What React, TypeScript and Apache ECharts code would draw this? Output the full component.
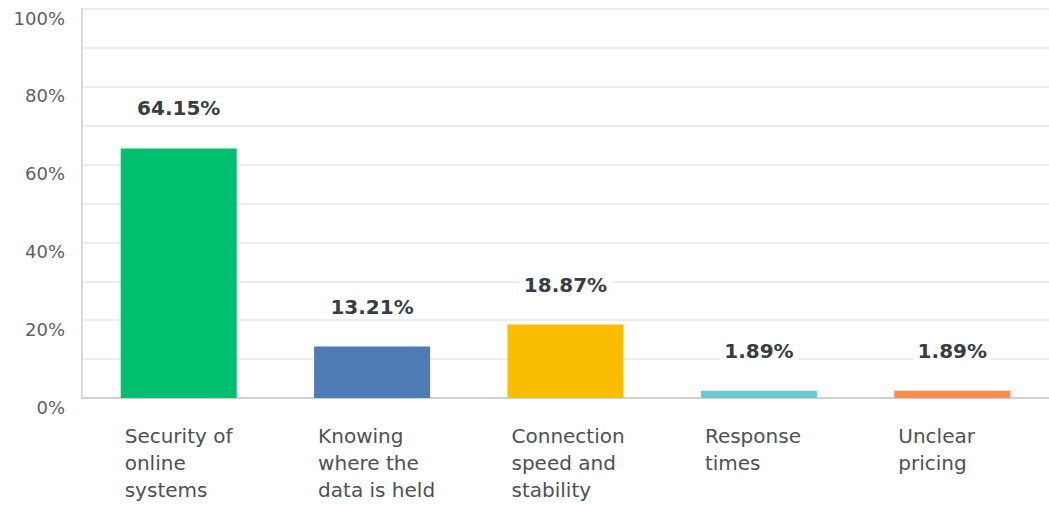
import React, { useEffect, useRef } from "react";
import * as echarts from "echarts";

const categories = [
  "Security of\nonline\nsystems",
  "Knowing\nwhere the\ndata is held",
  "Connection\nspeed and\nstability",
  "Response\ntimes",
  "Unclear\npricing",
];
const values = [64.15, 13.21, 18.87, 1.89, 1.89];
const colors = ["#00bf6f", "#507cb6", "#f9be00", "#6bc8cd", "#ff8b4f"];
const yTicks = [0, 20, 40, 60, 80, 100];

const FONT = "'DejaVu Sans', 'Noto Sans', sans-serif";

export default function App() {
  const ref = useRef<HTMLDivElement>(null);
  useEffect(() => {
    if (!ref.current) return;
    const chart = echarts.init(ref.current, null, { renderer: "svg" });
    chart.setOption({
      animation: false,
      grid: { left: 82, right: 0, top: 9, bottom: 108, containLabel: false },
      xAxis: {
        type: "category",
        data: categories,
        axisLine: { show: true, lineStyle: { color: "#cfd1d3", width: 2 } },
        axisTick: { show: false },
        axisLabel: {
          align: "left",
          padding: [0, 0, 0, -54],
          margin: 24,
          lineHeight: 27,
          fontSize: 20,
          fontFamily: FONT,
          color: "#4a525a",
          interval: 0,
        },
      },
      yAxis: {
        type: "value",
        min: 0,
        max: 100,
        interval: 10,
        axisLine: { show: true, lineStyle: { color: "#d9dadb", width: 2 } },
        axisTick: { show: false },
        splitLine: { show: true, lineStyle: { color: "#ededed", width: 2 } },
        axisLabel: {
          margin: 17,
          verticalAlign: "top",
          fontSize: 18,
          fontFamily: FONT,
          color: "#5b6168",
          formatter: (v: number) => (yTicks.includes(v) ? v + "%" : ""),
        },
      },
      series: [
        {
          type: "bar",
          barWidth: 116,
          data: values.map((v, i) => ({ value: v, itemStyle: { color: colors[i] } })),
          label: {
            show: true,
            position: "top",
            distance: 28,
            formatter: (p: any) => p.value.toFixed(2) + "%",
            fontSize: 20,
            fontWeight: "bold",
            fontFamily: FONT,
            color: "#333e48",
            backgroundColor: "#ffffff",
            padding: [2, 4],
          },
        },
      ],
    });
    return () => chart.dispose();
  }, []);
  return (
    <div
      ref={ref}
      style={{ position: "fixed", left: 0, top: 0, width: 1049, height: 506, background: "#fff" }}
    />
  );
}
